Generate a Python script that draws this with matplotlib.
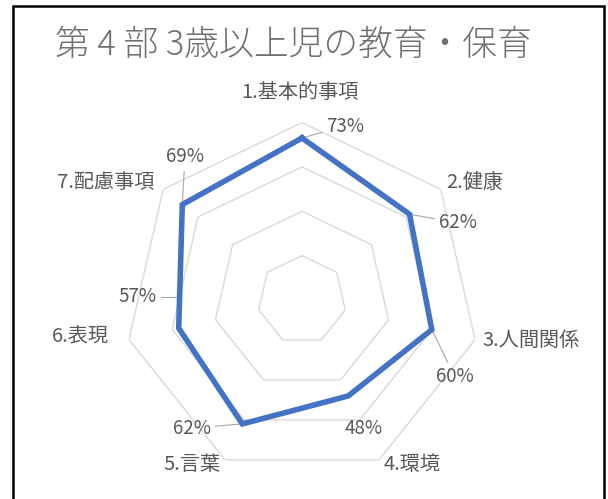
import numpy as np
import matplotlib
matplotlib.use("Agg")
import matplotlib.pyplot as plt
from matplotlib.patches import Rectangle

plt.rcParams['font.family'] = ['Noto Sans CJK JP', 'DejaVu Sans']

# data
title = "第 4 部 3歳以上児の教育・保育"
categories = ["1.基本的事項", "2.健康", "3.人間関係", "4.環境", "5.言葉", "6.表現", "7.配慮事項"]
values = [0.73, 0.62, 0.60, 0.48, 0.62, 0.57, 0.69]
grid_levels = [0.2, 0.4, 0.6, 0.8]

# label placement (figure pixels, measured from top-left)
cat_pos = [(300, 93), (475, 182), (531, 340), (412, 464), (192, 464), (80, 337), (106, 183)]
val_pos = [(345, 126), (458, 223), (455, 377), (364, 428), (192, 428), (138, 297), (185, 157)]
leader = [True, True, True, False, True, True, True]

W, H = 608, 499
TEXT = "#595959"
GRID = "#d9d9d9"
BLUE = "#4472c4"


def draw_chart():
    fig = plt.figure(figsize=(W / 100, H / 100), dpi=100)

    # center at (302, 300) px, outer ring radius 177.5 px
    cx, cy, rad = 302, 300, 177.5
    ax = fig.add_axes([(cx - rad) / W, (H - cy - rad) / H, 2 * rad / W, 2 * rad / H],
                      projection='polar')
    ax.set_theta_zero_location('N')
    ax.set_theta_direction(-1)
    ax.set_ylim(0, 0.8)
    ax.grid(False)
    ax.set_xticks([])
    ax.set_yticks([])
    ax.spines['polar'].set_visible(False)
    ax.patch.set_visible(False)

    n = len(categories)
    theta = np.linspace(0, 2 * np.pi, n, endpoint=False)
    theta_c = np.append(theta, theta[0])

    # heptagon grid
    for lv in grid_levels:
        ax.plot(theta_c, [lv] * (n + 1), color=GRID, lw=1.0, zorder=1)

    # series
    vals_c = np.append(values, values[0])
    ax.plot(theta_c, vals_c, color=BLUE, lw=4.0, solid_joinstyle='miter', zorder=3)

    # value labels with leader lines
    for i, (t, v, (px, py), ld) in enumerate(zip(theta, values, val_pos, leader)):
        arrow = None
        if ld:
            arrow = dict(arrowstyle='-', color="#a6a6a6", lw=0.8, shrinkA=1, shrinkB=2)
            if i == 5:
                # 6.表現: horizontal then down along the series line
                arrow['connectionstyle'] = "angle,angleA=0,angleB=90,rad=0"
        ax.annotate(f"{round(v * 100)}%", xy=(t, v), xycoords='data',
                    xytext=(px, H - py), textcoords='figure pixels',
                    ha='center', va='center', fontsize=13.5, color=TEXT,
                    arrowprops=arrow, zorder=2)

    # category labels
    for lab, (px, py) in zip(categories, cat_pos):
        fig.text(px / W, (H - py) / H, lab, ha='center', va='center',
                 fontsize=14.5, color=TEXT)

    fig.text(55 / W, (H - 45) / H, title, ha='left', va='center',
             fontsize=25, color="#707070", fontweight='light')

    # outer frame
    fig.patches.append(Rectangle((13 / W, -0.05), (604 - 13) / W, 1.05 - 6 / H,
                                 transform=fig.transFigure, fill=False,
                                 edgecolor='black', lw=1.8))

    fig.savefig("out.png", dpi=100, facecolor='white')


if __name__ == "__main__":
    draw_chart()
